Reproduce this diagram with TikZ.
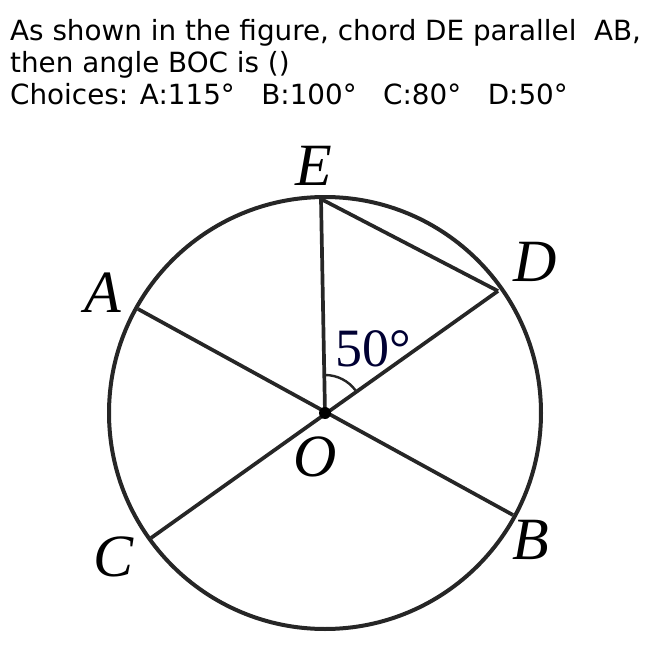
\documentclass[tikz,border=0pt]{standalone}
\usepackage{fontspec}
\setmainfont{DejaVu Sans}
\newfontfamily\lblfont{Liberation Serif}
\begin{document}
\begin{tikzpicture}[x=1pt,y=-1pt,
  geo/.style={draw=black!85, line width=3.7pt},
  lbl/.style={font=\lblfont\itshape\fontsize{60}{60}\selectfont, inner sep=0pt},
  qtext/.style={font=\fontsize{27.8}{32}\selectfont, anchor=north west, inner sep=0pt, align=left}]
\useasboundingbox (0,0) rectangle (649,645);
\node[qtext] (q) at (10,19) {As shown in the figure, chord DE parallel\ \ AB,\\then angle BOC is ()\\Choices: A:115°\ \ \ B:100°\ \ \ C:80°\ \ \ D:50°};
\coordinate (Oc) at (325,413);
\coordinate (O) at (325,413);
\coordinate (E) at (321,199);
\coordinate (D) at (498,291);
\coordinate (A) at (138,309);
\coordinate (B) at (513,515);
\coordinate (C) at (151,538);
\draw[geo, line width=4pt] (Oc) circle (216);
\draw[geo] (E) -- (O);
\draw[geo] (E) -- (D);
\draw[geo] (A) -- (B);
\draw[geo] (D) -- (C);
\draw[draw=black!85, line width=2.4pt] (O) ++(-90:38) arc[start angle=-90, end angle=-36, radius=38];
\fill[black] (O) circle (6);
\node[lbl] (lE) at (314,166) {E};
\node[lbl] (lD) at (535,262) {D};
\node[lbl] (lA) at (103,293) {A};
\node[lbl] (lO) at (315,457) {O};
\node[lbl] (lC) at (114,557) {C};
\node[lbl] (lB) at (531,540) {B};
\node[font=\lblfont\fontsize{54}{54}\selectfont, inner sep=0pt, anchor=west, text=black!75!blue!80!black] (ang) at (335,349) {50°};
\end{tikzpicture}
\end{document}
